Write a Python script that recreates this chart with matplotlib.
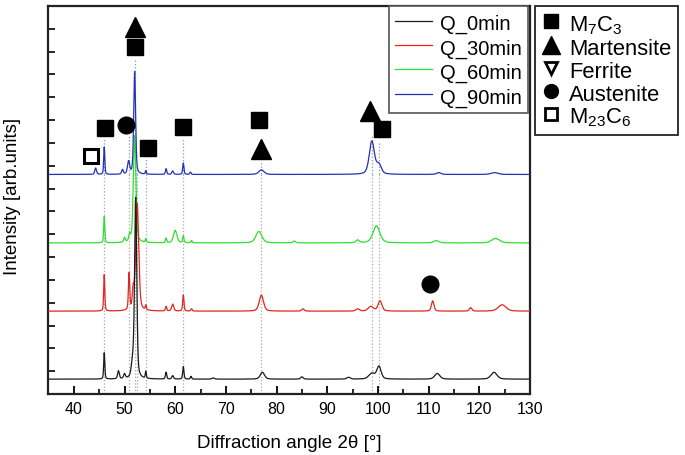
import numpy as np
import matplotlib.pyplot as plt
from matplotlib.lines import Line2D

plt.rcParams['font.family'] = ['Liberation Sans', 'DejaVu Sans']
plt.rcParams['mathtext.fontset'] = 'custom'
plt.rcParams['mathtext.rm'] = 'Liberation Sans'
plt.rcParams['mathtext.default'] = 'rm'

labels = ['Q_0min', 'Q_30min', 'Q_60min', 'Q_90min']
colors = ['#1a1a1a', '#e3261e', '#2ee02e', '#2232b4']
baselines = [0.65, 3.63, 6.62, 9.62]

# peak tables: position [deg], height, half width [deg]
pos_0 = [46.0, 48.8, 50.0, 51.6, 52.2, 54.2, 58.2, 59.5, 61.6, 63.1, 67.5, 77.2, 85.0, 94.2, 98.8, 100.2, 111.7, 122.9]
hgt_0 = [1.15, 0.35, 0.2, 0.6, 7.9, 0.3, 0.3, 0.15, 0.55, 0.12, 0.05, 0.3, 0.1, 0.08, 0.25, 0.55, 0.25, 0.3]
wid_0 = [0.13, 0.2, 0.2, 0.3, 0.25, 0.12, 0.15, 0.2, 0.15, 0.15, 0.3, 0.5, 0.3, 0.4, 0.7, 0.5, 0.6, 0.7]

pos_30 = [46.0, 50.9, 51.7, 52.5, 54.2, 58.2, 59.5, 61.6, 63.2, 77.0, 85.2, 96.0, 98.6, 100.4, 110.8, 118.3, 124.5]
hgt_30 = [1.6, 1.6, 0.8, 4.7, 0.2, 0.2, 0.3, 0.7, 0.1, 0.7, 0.1, 0.1, 0.2, 0.45, 0.45, 0.15, 0.28]
wid_30 = [0.13, 0.15, 0.2, 0.35, 0.12, 0.15, 0.25, 0.15, 0.15, 0.5, 0.3, 0.4, 0.6, 0.45, 0.3, 0.3, 0.9]

pos_60 = [46.0, 50.0, 51.0, 52.0, 54.2, 58.2, 60.0, 61.6, 63.2, 76.5, 83.5, 96.0, 99.7, 111.5, 123.2]
hgt_60 = [1.15, 0.2, 0.3, 4.7, 0.15, 0.2, 0.55, 0.3, 0.1, 0.5, 0.08, 0.12, 0.75, 0.1, 0.2]
wid_60 = [0.13, 0.2, 0.2, 0.3, 0.12, 0.15, 0.4, 0.15, 0.15, 0.7, 0.3, 0.4, 0.8, 0.6, 0.9]

pos_90 = [44.3, 46.0, 49.6, 50.8, 52.0, 54.2, 58.2, 59.5, 61.6, 63.0, 77.0, 98.8, 100.2, 112.0, 123.0]
hgt_90 = [0.28, 1.2, 0.2, 0.55, 4.5, 0.15, 0.25, 0.15, 0.5, 0.1, 0.2, 1.45, 0.4, 0.08, 0.08]
wid_90 = [0.2, 0.13, 0.2, 0.25, 0.22, 0.12, 0.15, 0.2, 0.15, 0.15, 0.6, 0.6, 0.55, 0.5, 0.8]

peaks = [(pos_0, hgt_0, wid_0), (pos_30, hgt_30, wid_30),
         (pos_60, hgt_60, wid_60), (pos_90, hgt_90, wid_90)]

# phase markers
sq_x = [46.1, 52.1, 54.6, 61.5, 76.5, 100.8]
sq_y = [11.67, 15.2, 10.8, 11.7, 12.0, 11.6]
tri_x = [52.1, 76.9, 98.4]
tri_y = [16.1, 10.75, 12.4]
circ_x = [50.3, 110.2]
circ_y = [11.8, 4.8]
osq_x = [43.4]
osq_y = [10.44]

# dotted reference lines
ref_x = [46.0, 50.8, 52.0, 52.5, 54.3, 61.6, 77.0, 98.8, 100.3]
ref_top = [11.2, 11.3, 14.7, 9.8, 10.4, 11.2, 10.2, 11.3, 11.0]


def profile(x, pos, hgt, wid):
    y = np.zeros_like(x)
    for p, h, w in zip(pos, hgt, wid):
        t = (x - p) / w
        y += h * (0.4 / (1 + t**2) + 0.6 * np.exp(-np.log(2) * t**2))
    return y


x = np.linspace(35, 130, 4000)

fig = plt.figure(figsize=(6.85, 4.56), dpi=100)
ax = fig.add_axes([0.0708, 0.1338, 0.7029, 0.8508])

ax.vlines(ref_x, 0, [min(t, baselines[3]) for t in ref_top], colors='#a8a8a8',
          linestyles=':', lw=0.9, zorder=1)
ax.vlines(ref_x, baselines[3], ref_top, colors='#8c8ccc', linestyles=':', lw=0.9, zorder=1)

handles = []
zs = [5, 3, 2, 4]
for k in range(4):
    pos, hgt, wid = peaks[k]
    y = baselines[k] + profile(x, pos, hgt, wid)
    ln, = ax.plot(x, y, color=colors[k], lw=0.9, label=labels[k], zorder=zs[k])
    handles.append(ln)

ax.plot(sq_x, sq_y, 's', color='black', ms=11.5, ls='none', zorder=6)
ax.plot(tri_x, tri_y, '^', color='black', ms=15, ls='none', zorder=6)
ax.plot(circ_x, circ_y, 'o', color='black', ms=12, ls='none', zorder=6)
ax.plot(osq_x, osq_y, 's', mfc='white', mec='black', mew=2.2, ms=9.5, ls='none', zorder=6)

ax.set_xlim(35, 130)
ax.set_ylim(0, 17)
ax.set_xticks(np.arange(40, 131, 10))
ax.set_xticks(np.arange(45, 130, 10), minor=True)
ax.set_yticks(np.arange(1, 17))
ax.set_yticklabels([])
ax.tick_params(axis='x', which='major', direction='in', length=6, width=1.3, labelsize=11.5, pad=5)
ax.tick_params(axis='x', which='minor', direction='in', length=3.5, width=1.2)
ax.tick_params(axis='y', direction='in', length=5, width=1.2)
for s in ax.spines.values():
    s.set_linewidth(1.6)
    s.set_color('#222222')

ax.set_xlabel('Diffraction angle 2θ [°]', fontsize=13.5, labelpad=13)
fig.text(13 / 685, 0.57, 'Intensity [arb.units]', rotation=90, ha='center', va='center',
         fontsize=13.5)

leg1 = ax.legend(handles=handles, loc='upper right', bbox_to_anchor=(528 / 685, 1 - 7 / 456),
                 bbox_transform=fig.transFigure, borderaxespad=0, fontsize=14.5,
                 handlelength=1.85, handleheight=1.2, handletextpad=0.4, labelspacing=0.15,
                 fancybox=False, framealpha=1, edgecolor='#555555', borderpad=0.3)
leg1.get_frame().set_linewidth(1.2)

phase_handles = [
    Line2D([], [], marker='s', color='black', ls='none', ms=10),
    Line2D([], [], marker='^', color='black', ls='none', ms=13),
    Line2D([], [], marker='v', mfc='white', mec='black', mew=2, ls='none', ms=9),
    Line2D([], [], marker='o', color='black', ls='none', ms=10),
    Line2D([], [], marker='s', mfc='white', mec='black', mew=2, ls='none', ms=9),
]
phase_labels = ['M$_7$C$_3$', 'Martensite', 'Ferrite', 'Austenite', 'M$_{23}$C$_6$']
leg2 = fig.legend(handles=phase_handles, labels=phase_labels, loc='upper left',
                  bbox_to_anchor=(535 / 685, 1 - 7 / 456), borderaxespad=0, fontsize=15.8,
                  handlelength=0.9, handleheight=1.0, handletextpad=0.37, labelspacing=0.03,
                  fancybox=False, framealpha=1, edgecolor='#222222', borderpad=0.3)
leg2.get_frame().set_linewidth(1.3)

fig.savefig('out.png', dpi=100)
